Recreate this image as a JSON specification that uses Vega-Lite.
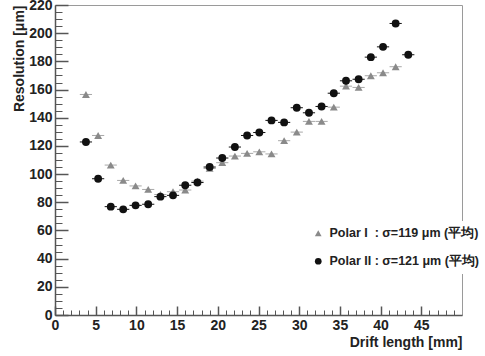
{
  "$schema": "https://vega.github.io/schema/vega-lite/v6.json",
  "width": 407,
  "height": 310,
  "autosize": "none",
  "padding": {"left": 55, "top": 5, "right": 23, "bottom": 41},
  "background": "white",
  "config": {
    "view": {"stroke": "#9a9a9a", "strokeWidth": 1},
    "font": "Liberation Sans"
  },
  "data": {
    "values": [
      {"s": "Polar I\u00a0\u00a0: σ=119 μm (平均)", "x": 3.8, "y": 156.5, "xe": 0.75},
      {"s": "Polar I\u00a0\u00a0: σ=119 μm (平均)", "x": 5.3, "y": 127.4, "xe": 0.75},
      {"s": "Polar I\u00a0\u00a0: σ=119 μm (平均)", "x": 6.85, "y": 106.4, "xe": 0.75},
      {"s": "Polar I\u00a0\u00a0: σ=119 μm (平均)", "x": 8.38, "y": 95.5, "xe": 0.75},
      {"s": "Polar I\u00a0\u00a0: σ=119 μm (平均)", "x": 9.9, "y": 91.6, "xe": 0.75},
      {"s": "Polar I\u00a0\u00a0: σ=119 μm (平均)", "x": 11.45, "y": 89.1, "xe": 0.75},
      {"s": "Polar I\u00a0\u00a0: σ=119 μm (平均)", "x": 12.95, "y": 85.5, "xe": 0.75},
      {"s": "Polar I\u00a0\u00a0: σ=119 μm (平均)", "x": 14.5, "y": 87.5, "xe": 0.75},
      {"s": "Polar I\u00a0\u00a0: σ=119 μm (平均)", "x": 16.0, "y": 88.7, "xe": 0.75},
      {"s": "Polar I\u00a0\u00a0: σ=119 μm (平均)", "x": 17.5, "y": 95.0, "xe": 0.75},
      {"s": "Polar I\u00a0\u00a0: σ=119 μm (平均)", "x": 19.0, "y": 104.0, "xe": 0.75},
      {"s": "Polar I\u00a0\u00a0: σ=119 μm (平均)", "x": 20.55, "y": 108.1, "xe": 0.75},
      {"s": "Polar I\u00a0\u00a0: σ=119 μm (平均)", "x": 22.1, "y": 112.8, "xe": 0.75},
      {"s": "Polar I\u00a0\u00a0: σ=119 μm (平均)", "x": 23.6, "y": 114.7, "xe": 0.75},
      {"s": "Polar I\u00a0\u00a0: σ=119 μm (平均)", "x": 25.1, "y": 115.8, "xe": 0.75},
      {"s": "Polar I\u00a0\u00a0: σ=119 μm (平均)", "x": 26.6, "y": 114.3, "xe": 0.75},
      {"s": "Polar I\u00a0\u00a0: σ=119 μm (平均)", "x": 28.15, "y": 123.7, "xe": 0.75},
      {"s": "Polar I\u00a0\u00a0: σ=119 μm (平均)", "x": 29.7, "y": 129.8, "xe": 0.75},
      {"s": "Polar I\u00a0\u00a0: σ=119 μm (平均)", "x": 31.2, "y": 137.4, "xe": 0.75},
      {"s": "Polar I\u00a0\u00a0: σ=119 μm (平均)", "x": 32.75, "y": 137.4, "xe": 0.75},
      {"s": "Polar I\u00a0\u00a0: σ=119 μm (平均)", "x": 34.25, "y": 147.5, "xe": 0.75},
      {"s": "Polar I\u00a0\u00a0: σ=119 μm (平均)", "x": 35.75, "y": 162.4, "xe": 0.75},
      {"s": "Polar I\u00a0\u00a0: σ=119 μm (平均)", "x": 37.3, "y": 161.5, "xe": 0.75},
      {"s": "Polar I\u00a0\u00a0: σ=119 μm (平均)", "x": 38.8, "y": 169.8, "xe": 0.75},
      {"s": "Polar I\u00a0\u00a0: σ=119 μm (平均)", "x": 40.3, "y": 171.9, "xe": 0.75},
      {"s": "Polar I\u00a0\u00a0: σ=119 μm (平均)", "x": 41.85, "y": 176.2, "xe": 0.75},
      {"s": "Polar II : σ=121 μm (平均)", "x": 3.8, "y": 122.8, "xe": 0.75},
      {"s": "Polar II : σ=121 μm (平均)", "x": 5.3, "y": 96.7, "xe": 0.75},
      {"s": "Polar II : σ=121 μm (平均)", "x": 6.85, "y": 76.9, "xe": 0.75},
      {"s": "Polar II : σ=121 μm (平均)", "x": 8.38, "y": 75.0, "xe": 0.75},
      {"s": "Polar II : σ=121 μm (平均)", "x": 9.9, "y": 77.8, "xe": 0.75},
      {"s": "Polar II : σ=121 μm (平均)", "x": 11.45, "y": 78.6, "xe": 0.75},
      {"s": "Polar II : σ=121 μm (平均)", "x": 12.95, "y": 84.0, "xe": 0.75},
      {"s": "Polar II : σ=121 μm (平均)", "x": 14.5, "y": 84.9, "xe": 0.75},
      {"s": "Polar II : σ=121 μm (平均)", "x": 16.0, "y": 92.1, "xe": 0.75},
      {"s": "Polar II : σ=121 μm (平均)", "x": 17.5, "y": 94.0, "xe": 0.75},
      {"s": "Polar II : σ=121 μm (平均)", "x": 19.0, "y": 105.0, "xe": 0.75},
      {"s": "Polar II : σ=121 μm (平均)", "x": 20.55, "y": 111.4, "xe": 0.75},
      {"s": "Polar II : σ=121 μm (平均)", "x": 22.1, "y": 119.2, "xe": 0.75},
      {"s": "Polar II : σ=121 μm (平均)", "x": 23.6, "y": 127.4, "xe": 0.75},
      {"s": "Polar II : σ=121 μm (平均)", "x": 25.1, "y": 129.5, "xe": 0.75},
      {"s": "Polar II : σ=121 μm (平均)", "x": 26.6, "y": 138.1, "xe": 0.75},
      {"s": "Polar II : σ=121 μm (平均)", "x": 28.15, "y": 136.7, "xe": 0.75},
      {"s": "Polar II : σ=121 μm (平均)", "x": 29.7, "y": 147.1, "xe": 0.75},
      {"s": "Polar II : σ=121 μm (平均)", "x": 31.2, "y": 143.5, "xe": 0.75},
      {"s": "Polar II : σ=121 μm (平均)", "x": 32.75, "y": 148.0, "xe": 0.75},
      {"s": "Polar II : σ=121 μm (平均)", "x": 34.25, "y": 157.4, "xe": 0.75},
      {"s": "Polar II : σ=121 μm (平均)", "x": 35.75, "y": 166.2, "xe": 0.75},
      {"s": "Polar II : σ=121 μm (平均)", "x": 37.3, "y": 167.3, "xe": 0.75},
      {"s": "Polar II : σ=121 μm (平均)", "x": 38.8, "y": 183.0, "xe": 0.75},
      {"s": "Polar II : σ=121 μm (平均)", "x": 40.3, "y": 190.3, "xe": 0.75},
      {"s": "Polar II : σ=121 μm (平均)", "x": 41.85, "y": 206.9, "xe": 0.75},
      {"s": "Polar II : σ=121 μm (平均)", "x": 43.4, "y": 184.7, "xe": 0.75}
    ]
  },
  "layer": [
    {
      "transform": [{"filter": "indexof(datum.s, 'Polar II') < 0"}],
      "mark": {"type": "errorbar", "ticks": false, "thickness": 1, "color": "#a8a8a8"},
      "encoding": {
        "x": {
          "field": "x", "type": "quantitative",
          "scale": {"domain": [0, 50], "nice": false, "zero": false},
          "axis": {
            "orient": "bottom",
            "values": [0, 5, 10, 15, 20, 25, 30, 35, 40, 45],
            "tickSize": -9, "tickColor": "#555555", "tickWidth": 1.5,
            "domainColor": "#555555", "domainWidth": 1.5,
            "labelFont": "Liberation Sans", "labelFontWeight": "bold", "labelFontSize": 14,
            "labelColor": "#222222", "labelPadding": 12, "labelFlush": false,
            "title": "Drift length [mm]", "titleFont": "Liberation Sans",
            "titleFontSize": 14, "titleFontWeight": "bold", "titleColor": "#222222",
            "titleAnchor": "end", "titlePadding": 3, "grid": false
          }
        },
        "xError": {"field": "xe"},
        "y": {
          "field": "y", "type": "quantitative",
          "scale": {"domain": [0, 220], "nice": false, "zero": true},
          "axis": {
            "orient": "left",
            "values": [0, 20, 40, 60, 80, 100, 120, 140, 160, 180, 200, 220],
            "tickSize": -13, "tickColor": "#555555", "tickWidth": 1.5,
            "domainColor": "#555555", "domainWidth": 1.5,
            "labelFont": "Liberation Sans", "labelFontWeight": "bold", "labelFontSize": 14,
            "labelColor": "#222222", "labelPadding": 16, "labelFlush": false,
            "title": "Resolution [μm]", "titleFont": "Liberation Sans",
            "titleFontSize": 14, "titleFontWeight": "bold", "titleColor": "#222222",
            "titleAnchor": "end", "titlePadding": 2, "grid": false
          }
        }
      }
    },
    {
      "transform": [{"filter": "indexof(datum.s, 'Polar II') >= 0"}],
      "mark": {"type": "errorbar", "ticks": false, "thickness": 1, "color": "#111111"},
      "encoding": {
        "x": {"field": "x", "type": "quantitative", "axis": null},
        "xError": {"field": "xe"},
        "y": {"field": "y", "type": "quantitative", "axis": null}
      }
    },
    {
      "mark": {"type": "point", "filled": true, "opacity": 1, "size": 62},
      "encoding": {
        "x": {
          "field": "x", "type": "quantitative",
          "axis": {
            "orient": "bottom",
            "values": [1,2,3,4,6,7,8,9,11,12,13,14,16,17,18,19,21,22,23,24,26,27,28,29,31,32,33,34,36,37,38,39,41,42,43,44,46,47,48,49],
            "tickSize": -5, "tickColor": "#555555", "tickWidth": 1,
            "domain": false, "labels": false, "title": null, "grid": false
          }
        },
        "y": {
          "field": "y", "type": "quantitative",
          "axis": {
            "orient": "left",
            "values": [5,10,15,25,30,35,45,50,55,65,70,75,85,90,95,105,110,115,125,130,135,145,150,155,165,170,175,185,190,195,205,210,215],
            "tickSize": -7, "tickColor": "#555555", "tickWidth": 1,
            "domain": false, "labels": false, "title": null, "grid": false
          }
        },
        "color": {
          "field": "s", "type": "nominal",
          "scale": {"domain": ["Polar I\u00a0\u00a0: σ=119 μm (平均)", "Polar II : σ=121 μm (平均)"], "range": ["#8a8a8a", "#111111"]},
          "legend": {
            "orient": "none", "legendX": 251, "legendY": 216, "title": null,
            "fillColor": "white", "padding": 6, "rowPadding": 15,
            "labelFont": "Liberation Sans", "labelFontSize": 12.5, "labelFontWeight": "bold",
            "labelColor": "#222222", "labelOffset": 5, "symbolSize": 45, "labelLimit": 300
          }
        },
        "shape": {
          "field": "s", "type": "nominal",
          "scale": {"domain": ["Polar I\u00a0\u00a0: σ=119 μm (平均)", "Polar II : σ=121 μm (平均)"], "range": ["triangle-up", "circle"]},
          "legend": {
            "orient": "none", "legendX": 251, "legendY": 216, "title": null,
            "fillColor": "white", "padding": 6, "rowPadding": 15,
            "labelFont": "Liberation Sans", "labelFontSize": 12.5, "labelFontWeight": "bold",
            "labelColor": "#222222", "labelOffset": 5, "symbolSize": 45, "labelLimit": 300
          }
        }
      }
    }
  ],
  "resolve": {"axis": {"x": "independent", "y": "independent"}}
}
